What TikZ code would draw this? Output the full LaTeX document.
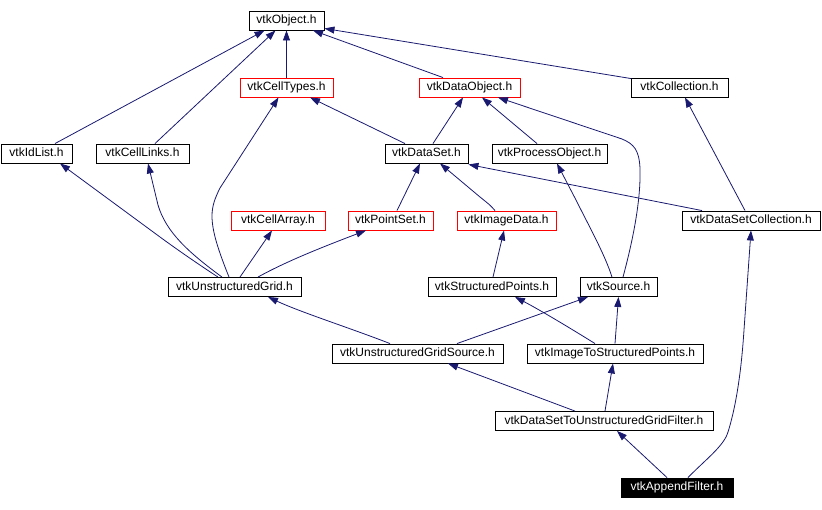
\documentclass[tikz,border=0pt]{standalone}
\usepackage{fontspec}
\setmainfont{Liberation Sans}
\usetikzlibrary{arrows.meta}
\definecolor{edgeblue}{HTML}{191970}
\tikzset{
  box/.style={draw=black, line width=0.9pt, inner sep=0pt, minimum height=19pt, text height=8.6pt, text depth=2.4pt, font=\fontsize{12}{14}\selectfont, anchor=center},
  redbox/.style={box, draw=red},
  hibox/.style={box, fill=black, text=white},
  e/.style={draw=edgeblue, line width=0.8pt, -{Triangle[length=10pt,width=7pt]}}
}
\begin{document}
\begin{tikzpicture}[x=1pt,y=-1pt]
\useasboundingbox (0,0) rectangle (822,509);
% nodes
\node[box, minimum width=75pt] (obj) at (286.5,20.5) {vtkObject.h};
\node[redbox, minimum width=93pt] (ctypes) at (286.5,87.5) {vtkCellTypes.h};
\node[redbox, minimum width=101pt] (dobj) at (469.5,87.5) {vtkDataObject.h};
\node[box, minimum width=97pt] (coll) at (679.5,87.5) {vtkCollection.h};
\node[box, minimum width=71pt] (idl) at (36.5,153.5) {vtkIdList.h};
\node[box, minimum width=93pt] (clinks) at (142.5,153.5) {vtkCellLinks.h};
\node[box, minimum width=83pt] (dset) at (426.5,153.5) {vtkDataSet.h};
\node[box, minimum width=115pt] (pobj) at (549.5,153.5) {vtkProcessObject.h};
\node[redbox, minimum width=94pt] (carr) at (278,220.5) {vtkCellArray.h};
\node[redbox, minimum width=85pt] (pset) at (390.5,220.5) {vtkPointSet.h};
\node[redbox, minimum width=99pt] (idata) at (506.5,220.5) {vtkImageData.h};
\node[box, minimum width=138pt] (dscoll) at (751,220.5) {vtkDataSetCollection.h};
\node[box, minimum width=133pt] (ugrid) at (234.5,287) {vtkUnstructuredGrid.h};
\node[box, minimum width=128pt] (spts) at (492,287) {vtkStructuredPoints.h};
\node[box, minimum width=77pt] (src) at (618.5,287) {vtkSource.h};
\node[box, minimum width=171pt] (ugsrc) at (417.5,353.5) {vtkUnstructuredGridSource.h};
\node[box, minimum width=176pt] (its) at (615,353.5) {vtkImageToStructuredPoints.h};
\node[box, minimum width=218pt] (dsug) at (604,421) {vtkDataSetToUnstructuredGridFilter.h};
\node[hibox, minimum width=112pt] (app) at (677,487.5) {vtkAppendFilter.h};
% edges (child -> parent)
\draw[e] ([xshift=18.5pt]idl.north) -- ([xshift=-22pt]obj.south);
\draw[e] ([xshift=12.5pt]clinks.north) -- ([xshift=-11pt]obj.south);
\draw[e] (ctypes.north) -- (obj.south);
\draw[e] ([xshift=-26.5pt]dobj.north) -- ([xshift=26.5pt]obj.south);
\draw[e] ([xshift=-48.5pt,yshift=-1pt]coll.north) -- ([yshift=2pt]obj.south east);
\draw[e] ([xshift=-21.5pt]dset.north) -- ([xshift=23.5pt]ctypes.south);
\draw[e] ([xshift=6.5pt]dset.north) -- ([xshift=-6.5pt]dobj.south);
\draw[e] ([xshift=-12.5pt]pobj.north) -- ([xshift=12.5pt]dobj.south);
\draw[e] ([xshift=4.5pt]src.north) .. controls (633,240) and (641,200) .. (640,168)
   .. controls (639,150) and (634,144) .. (622,139) -- ([xshift=28.5pt]dobj.south);
\draw[e] ([xshift=-6pt]dscoll.north) -- ([xshift=5.5pt]coll.south);
\draw[e] ([xshift=-49pt]dscoll.north) -- ([yshift=-1pt]dset.south east);
\draw[e] ([xshift=6.5pt]pset.north) -- ([xshift=-6.5pt]dset.south);
\draw[e] ([xshift=-11.5pt]idata.north) .. controls (490,205) .. (480,197) -- ([xshift=13.5pt]dset.south);
\draw[e] ([xshift=-16.5pt]ugrid.north) .. controls (195,262) and (175,248) .. (160,237) -- ([xshift=23.5pt]idl.south);
\draw[e] ([xshift=-12.5pt]ugrid.north) .. controls (188,252) and (166,232) .. (158,205) -- ([xshift=5.5pt]clinks.south);
\draw[e] ([xshift=-5.5pt]ugrid.north) .. controls (219,252) and (212,232) .. (212,216)
   .. controls (212,206) and (215,198) .. (220,188) -- ([xshift=-8pt]ctypes.south);
\draw[e] ([xshift=5.5pt]ugrid.north) -- ([xshift=-6pt]carr.south);
\draw[e] ([xshift=23.5pt]ugrid.north) .. controls (285,262) and (320,248) .. ([xshift=-24.5pt]pset.south);
\draw[e] ([xshift=1pt]spts.north) -- ([xshift=-2.5pt]idata.south);
\draw[e] ([xshift=-6.5pt]src.north) .. controls (605,255) and (590,228) .. (576,200) -- ([xshift=7.5pt]pobj.south);
\draw[e] ([xshift=-27.5pt]ugsrc.north) .. controls (350,328) and (300,312) .. ([xshift=33.5pt]ugrid.south);
\draw[e] ([xshift=39.5pt]ugsrc.north) -- ([xshift=-30.5pt]src.south);
\draw[e] ([xshift=-20pt]its.north) .. controls (570,328) and (540,310) .. ([xshift=23pt]spts.south);
\draw[e] (its.north) -- (src.south);
\draw[e] ([xshift=-29pt]dsug.north) -- ([xshift=30.5pt]ugsrc.south);
\draw[e] ([xshift=1pt]dsug.north) -- ([xshift=-2pt]its.south);
\draw[e] ([xshift=-10pt]app.north) -- ([xshift=13pt]dsug.south);
\draw[e] ([xshift=11pt]app.north) .. controls (705,460) and (724,446) .. (728,432)
   .. controls (738,400) and (742,360) .. (744,330) -- (dscoll.south);
\end{tikzpicture}
\end{document}
